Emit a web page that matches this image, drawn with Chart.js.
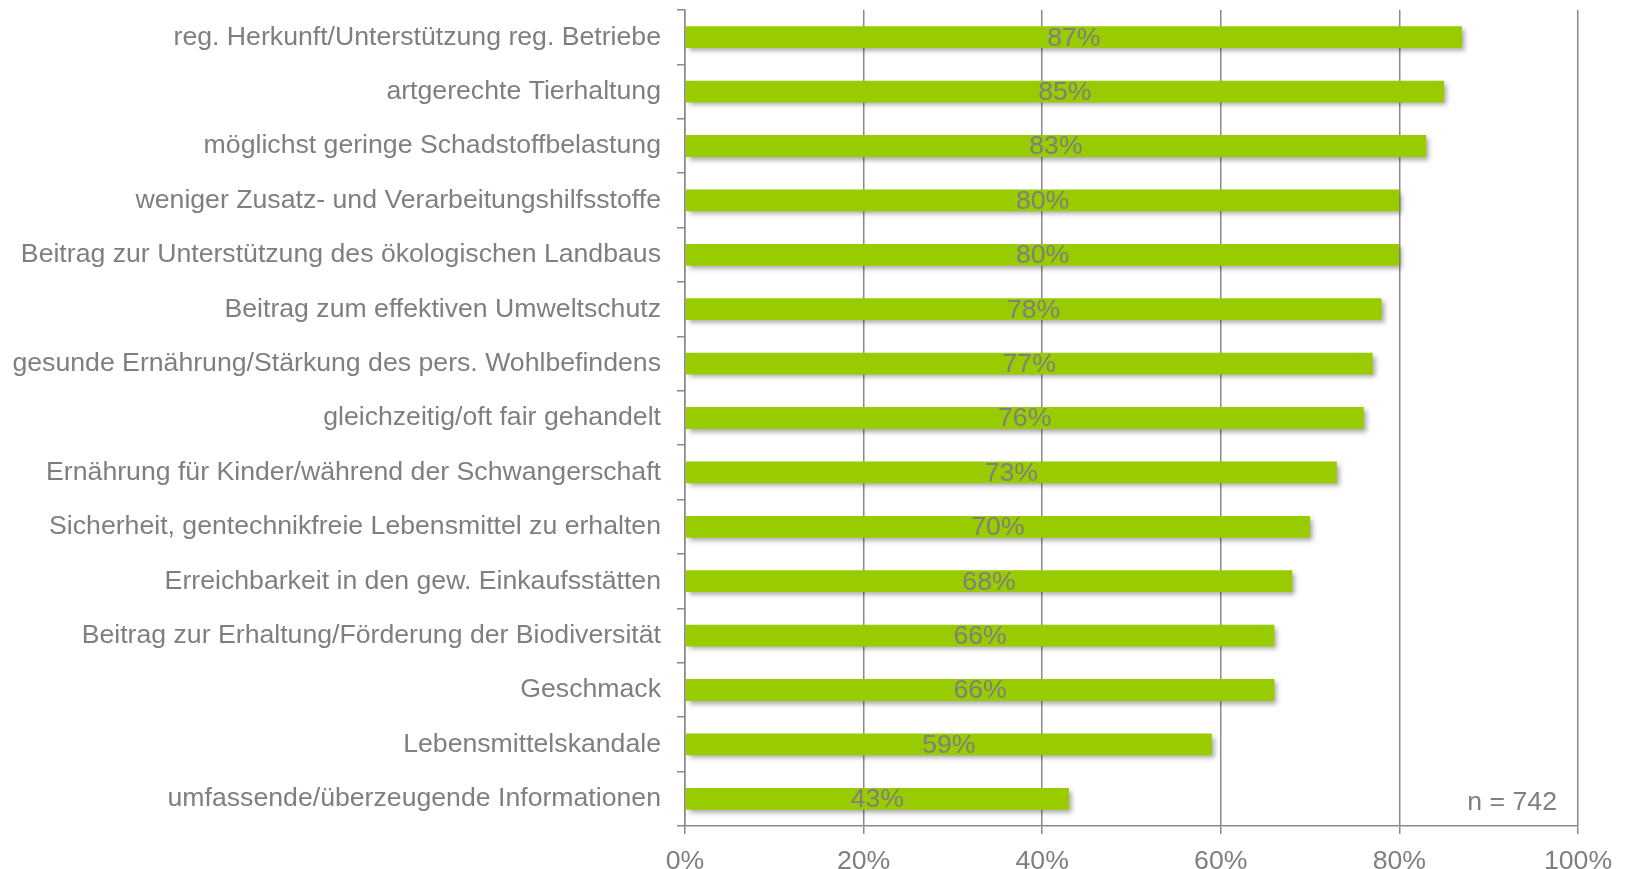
<!DOCTYPE html>
<html>
<head>
<meta charset="utf-8">
<script src="https://cdn.jsdelivr.net/npm/chart.js@4"></script>
<style>
  html, body { margin: 0; padding: 0; background: #fff; }
  #wrap { width: 1631px; height: 869px; }
</style>
</head>
<body>
<div id="wrap"><canvas id="chart" width="1631" height="869"></canvas></div>
<script>
// Kategorien (von oben nach unten)
const categories = [
    'reg. Herkunft/Unterstützung reg. Betriebe',
    'artgerechte Tierhaltung',
    'möglichst geringe Schadstoffbelastung',
    'weniger Zusatz- und Verarbeitungshilfsstoffe',
    'Beitrag zur Unterstützung des ökologischen Landbaus',
    'Beitrag zum effektiven Umweltschutz',
    'gesunde Ernährung/Stärkung des pers. Wohlbefindens',
    'gleichzeitig/oft fair gehandelt',
    'Ernährung für Kinder/während der Schwangerschaft',
    'Sicherheit, gentechnikfreie Lebensmittel zu erhalten',
    'Erreichbarkeit in den gew. Einkaufsstätten',
    'Beitrag zur Erhaltung/Förderung der Biodiversität',
    'Geschmack',
    'Lebensmittelskandale',
    'umfassende/überzeugende Informationen'
];

// Anteile in Prozent
const values = [87, 85, 83, 80, 80, 78, 77, 76, 73, 70, 68, 66, 66, 59, 43];

// Achsenbeschriftung
const xTicks = [0, 20, 40, 60, 80, 100];
const sampleNote = 'n = 742';

const textGray = '#7f7f7f';
const gridGray = '#8a8a8a';
const fontFamily = 'Arial, "Liberation Sans", sans-serif';
const fontSize = 26.67; // 20pt

// Schatten für die Balken
const barShadow = {
    id: 'barShadow',
    beforeDatasetsDraw(chart) {
        const ctx = chart.ctx;
        ctx.save();
        ctx.shadowColor = 'rgba(0, 0, 0, 0.35)';
        ctx.shadowBlur = 5;
        ctx.shadowOffsetX = 3;
        ctx.shadowOffsetY = 3;
    },
    afterDatasetsDraw(chart) {
        chart.ctx.restore();
    }
};

// Werte mittig in den Balken + n-Angabe
const valueLabels = {
    id: 'valueLabels',
    afterDatasetsDraw(chart) {
        const ctx = chart.ctx;
        const meta = chart.getDatasetMeta(0);
        ctx.save();
        ctx.font = fontSize + 'px ' + fontFamily;
        ctx.fillStyle = textGray;
        ctx.textAlign = 'center';
        ctx.textBaseline = 'middle';
        meta.data.forEach((bar, i) => {
            const cx = (bar.x + bar.base) / 2;
            ctx.fillText(values[i] + '%', cx, bar.y + 1);
        });
        const area = chart.chartArea;
        ctx.textAlign = 'right';
        ctx.textBaseline = 'alphabetic';
        ctx.fillText(sampleNote, area.right - 21, area.bottom - 16);
        ctx.restore();
    }
};

new Chart(document.getElementById('chart'), {
    type: 'bar',
    data: {
        labels: categories,
        datasets: [{
            data: values,
            backgroundColor: '#99cc00',
            borderWidth: 0,
            categoryPercentage: 1,
            barPercentage: 0.4
        }]
    },
    options: {
        indexAxis: 'y',
        responsive: false,
        animation: false,
        layout: { padding: { top: 10, right: 53, bottom: 0, left: 0 } },
        plugins: {
            legend: { display: false },
            tooltip: { enabled: false }
        },
        scales: {
            x: {
                min: 0,
                max: 100,
                afterBuildTicks(scale) {
                    scale.ticks = xTicks.map(v => ({ value: v }));
                },
                afterFit(scale) {
                    scale.height = 43;
                    scale.paddingLeft = 0;
                    scale.paddingRight = 0;
                },
                grid: {
                    color: gridGray,
                    lineWidth: 1.5,
                    drawTicks: true,
                    tickLength: 8
                },
                border: { display: true, color: gridGray, width: 1.5 },
                ticks: {
                    color: textGray,
                    font: { size: fontSize, family: fontFamily },
                    padding: 12,
                    maxRotation: 0,
                    callback: v => v + '%'
                }
            },
            y: {
                afterFit(scale) {
                    scale.width = 685;
                    scale.paddingTop = 0;
                    scale.paddingBottom = 0;
                },
                grid: {
                    offset: true,
                    drawOnChartArea: false,
                    drawTicks: true,
                    tickLength: 8,
                    color: gridGray,
                    lineWidth: 1.5
                },
                border: { display: true, color: gridGray, width: 1.5 },
                ticks: {
                    color: textGray,
                    font: { size: fontSize, family: fontFamily },
                    padding: 16,
                    autoSkip: false
                }
            }
        }
    },
    plugins: [barShadow, valueLabels]
});
</script>
</body>
</html>
